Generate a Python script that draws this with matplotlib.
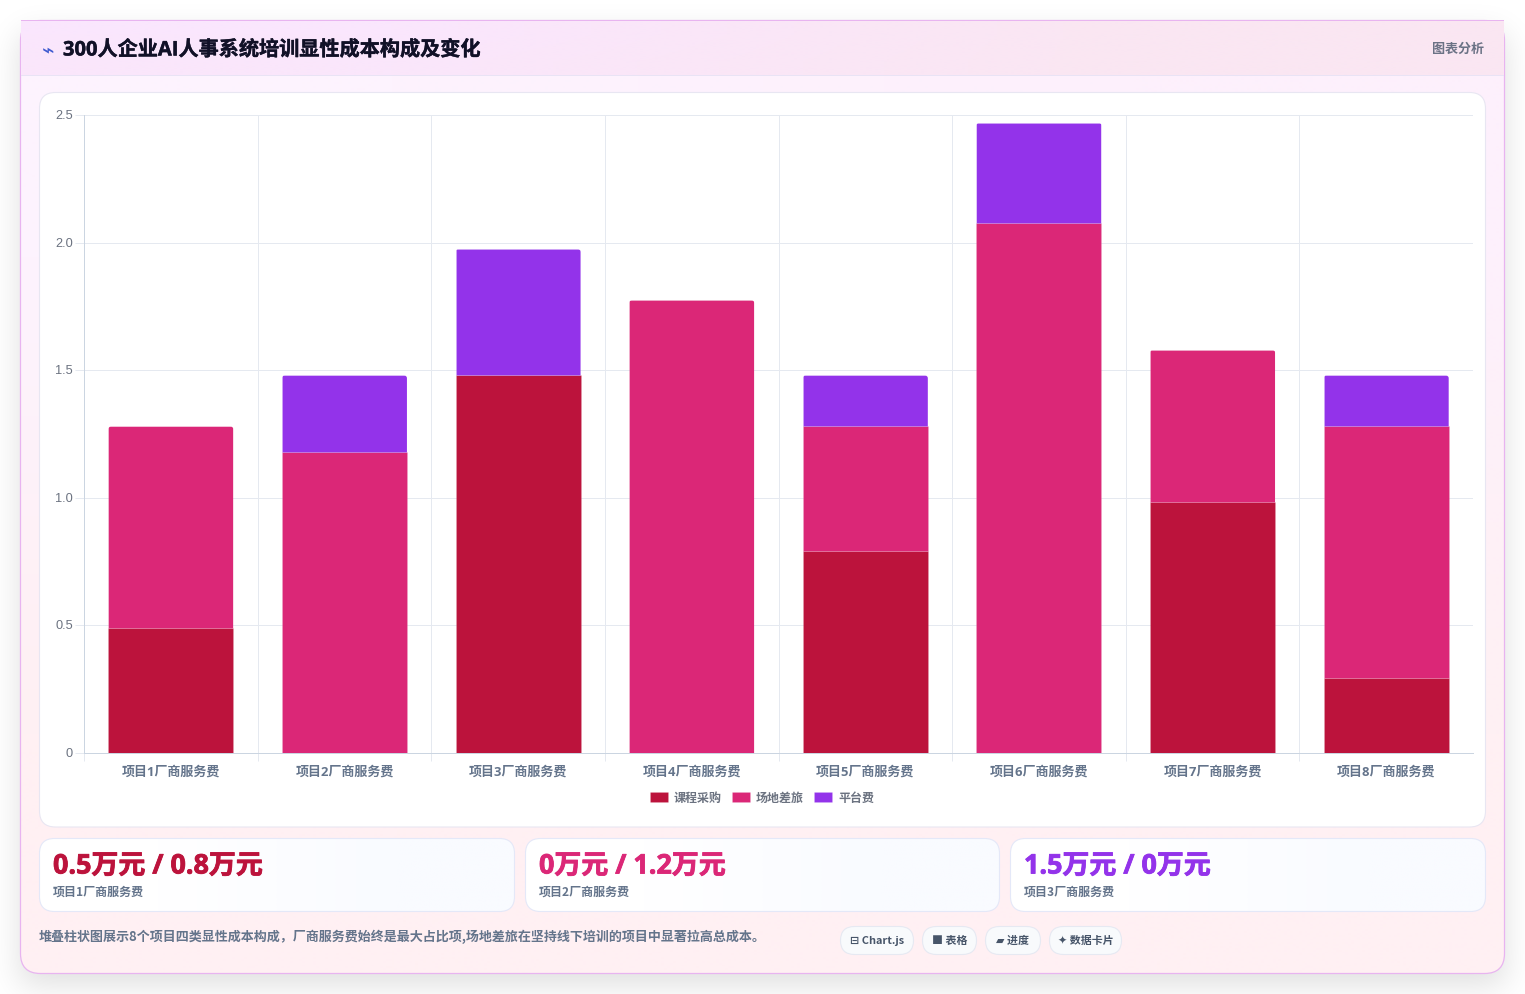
import numpy as np
import matplotlib
matplotlib.use("Agg")
import matplotlib.pyplot as plt
import matplotlib.patheffects as pe
from matplotlib.patches import FancyBboxPatch, Rectangle
from matplotlib.transforms import IdentityTransform, ScaledTranslation

CJK = ["Noto Sans CJK SC", "DejaVu Sans"]
LATIN_CJK = ["Open Sans", "Noto Sans CJK SC", "DejaVu Sans"]
plt.rcParams["font.family"] = CJK

W, H = 1525, 994
PX = 0.72  # points per pixel at 100 dpi

# chart data, in units of 10k yuan
projects = [f"项目{i}厂商服务费" for i in range(1, 9)]
course = [0.49, 0, 1.48, 0, 0.79, 0, 0.985, 0.295]
venue = [0.79, 1.18, 0, 1.775, 0.49, 2.075, 0.595, 0.985]
platform = [0, 0.30, 0.495, 0, 0.20, 0.395, 0, 0.20]
series_names = ["课程采购", "场地差旅", "平台费"]
series_colors = ["#bc133c", "#db2777", "#9333ea"]
y_ticks = [0, 0.5, 1.0, 1.5, 2.0, 2.5]
y_tick_labels = ["0", "0.5", "1.0", "1.5", "2.0", "2.5"]

title = "300人企业AI人事系统培训显性成本构成及变化"
badge = "图表分析"
stat_values = ["0.5万元 / 0.8万元", "0万元 / 1.2万元", "1.5万元 / 0万元"]
stat_labels = ["项目1厂商服务费", "项目2厂商服务费", "项目3厂商服务费"]
summary = "堆叠柱状图展示8个项目四类显性成本构成，厂商服务费始终是最大占比项,场地差旅在坚持线下培训的项目中显著拉高总成本。"
pills = ["⊟ Chart.js", "■ 表格", "▰ 进度", "✦ 数据卡片"]

fig = plt.figure(figsize=(W / 100, H / 100), dpi=100, facecolor="white")
page = fig.add_axes([0, 0, 1, 1])
page.set_xlim(0, W)
page.set_ylim(H, 0)
page.axis("off")


def rounded(x0, y0, x1, y1, r, **kw):
    patch = FancyBboxPatch((x0 + r, y0 + r), x1 - x0 - 2 * r, y1 - y0 - 2 * r,
                           boxstyle=f"round,pad={r},rounding_size={r}", **kw)
    page.add_patch(patch)
    return patch


def gradient(x0, y0, x1, y1, corners, clip=None, zorder=1):
    # bilinear blend between the four corner colours (tl, tr, bl, br)
    c = np.array([matplotlib.colors.to_rgb(k) for k in corners])
    img = np.array([[c[0], c[1]], [c[2], c[3]]])
    im = page.imshow(img, extent=(x0, x1, y1, y0), interpolation="bilinear",
                     aspect="auto", zorder=zorder)
    if clip is not None:
        im.set_clip_path(clip)
    return im


def soft_profile(n, a, b, sigma):
    box = np.zeros(n)
    box[max(a, 0):min(b, n)] = 1
    t = np.arange(-int(4 * sigma), int(4 * sigma) + 1)
    g = np.exp(-t ** 2 / (2 * sigma ** 2))
    return np.convolve(box, g / g.sum(), mode="same")


def heavy(width, color):
    return [pe.withStroke(linewidth=width, foreground=color)]


# soft drop shadow under the main card
alpha = 0.13 * np.outer(soft_profile(H, 34, 985, 16), soft_profile(W, 20, 1505, 16))
shadow = np.zeros((H, W, 4))
shadow[..., 3] = alpha
page.imshow(shadow, extent=(0, W, H, 0), aspect="auto", zorder=0, interpolation="nearest")
page.set_xlim(0, W)
page.set_ylim(H, 0)

# main card
card_edge = "#e8b4f0"
card_clip = rounded(20.5, 20.5, 1504.5, 973.5, 20, facecolor="none", edgecolor="none", zorder=1)
gradient(20.5, 20.5, 1504.5, 973.5, ["#fdf3fe", "#fdf0fc", "#fff0f3", "#fff0f3"], clip=card_clip, zorder=1)
rounded(20.5, 20.5, 1504.5, 973.5, 20, facecolor="none", edgecolor=card_edge, linewidth=0.9, zorder=2)

# header band
gradient(21, 21, 1504, 75, ["#fae6fd", "#fae6f2", "#fae6fb", "#fae6f2"], zorder=3)
page.add_patch(Rectangle((21, 20.2), 1483, 1.0, facecolor=card_edge, edgecolor="none", zorder=4))
page.add_patch(Rectangle((21, 75), 1483, 1.0, facecolor="#e9e3f5", edgecolor="none", zorder=4))
page.text(48, 50.5, "⌁", fontsize=15, color="#3f5bd0", ha="center", va="center", zorder=5)
page.text(63, 50.5, title, fontsize=14.5, fontweight="bold", color="#111127", ha="left", va="center", zorder=5,
          family=LATIN_CJK, path_effects=heavy(0.3, "#111127"))
page.text(1484, 49, badge, fontsize=9.4, fontweight="bold", color="#6b7285", ha="right", va="center", zorder=5)

# chart panel
rounded(39.5, 92.5, 1485.5, 827, 16, facecolor="white", edgecolor="#e8e6f2", linewidth=0.8, zorder=3)

# stat cards
for i, (x0, x1, value, label, color) in enumerate(zip((39.5, 525.5, 1010.5), (514.5, 999.5, 1485.5),
                                                      stat_values, stat_labels, series_colors)):
    clip = rounded(x0, 838.5, x1, 911.5, 15, facecolor="none", edgecolor="none", zorder=3)
    gradient(x0, 838.5, x1, 911.5, ["#ffffff", "#f9fbff", "#ffffff", "#f9fbff"], clip=clip, zorder=3)
    rounded(x0, 838.5, x1, 911.5, 15, facecolor="none", edgecolor="#e4e8f8", linewidth=0.8, zorder=4)
    page.text(x0 + 13.5, 866.5, value, fontsize=19.4, fontweight="bold", color=color, ha="left", va="center", zorder=5,
              family=LATIN_CJK, path_effects=heavy(0.6, color))
    page.text(x0 + 13.5, 892, label, fontsize=8.64, fontweight="bold", color="#64748b", ha="left", va="center", zorder=5)

# summary line and technology pills
page.text(39, 936.5, summary, fontsize=9.36, fontweight="bold", color="#64748b", ha="left", va="center", zorder=5)
for (x0, x1), text in zip(((840.5, 913.5), (922.5, 976.5), (985.5, 1040.5), (1049.5, 1121.5)), pills):
    rounded(x0, 926.5, x1, 954.5, 14, facecolor="#f8fafc", edgecolor="#e6e9f2", linewidth=0.8, zorder=3)
    page.text((x0 + x1) / 2, 941, text, fontsize=7.9, fontweight="bold", color="#475569",
              ha="center", va="center", zorder=5)

# stacked bar chart
ax = fig.add_axes([84 / W, (H - 753) / H, 1389 / W, (753 - 115) / H], facecolor="none", zorder=5)
x = np.arange(len(projects))
stacks = [np.array(course), np.array(venue), np.array(platform)]
base = np.zeros(len(projects))
containers = []
for values, name, color in zip(stacks, series_names, series_colors):
    containers.append(ax.bar(x, values, width=0.72, bottom=base, color=color, label=name, zorder=3,
                             edgecolor=(1, 1, 1, 0.1), linewidth=PX))
    base = base + values

ax.set_xlim(-0.5, 7.5)
ax.set_ylim(0, 2.5)
ax.set_yticks(y_ticks, y_tick_labels)
ax.set_xticks(x, projects)
ax.set_xticks(np.arange(-0.5, 7.0, 1.0), minor=True)
ax.grid(True, axis="y", which="major", color="#e5e9f0", linewidth=PX, zorder=0)
ax.grid(True, axis="x", which="minor", color="#e5e9f0", linewidth=PX, zorder=0)
ax.tick_params(axis="x", which="major", length=0, pad=13 * PX, labelsize=9.36, labelcolor="#64748b")
ax.tick_params(axis="x", which="minor", length=8 * PX, width=PX, color="#e5e9f0")
ax.tick_params(axis="y", length=9 * PX, width=PX, color="#e5e9f0", pad=2 * PX, labelsize=9.2, labelcolor="#6b7280")
for label in ax.get_xticklabels():
    label.set_fontweight("bold")
    label.set_family(LATIN_CJK)
nudge = ScaledTranslation(0, 0.5 / 100, fig.dpi_scale_trans)
for label in ax.get_yticklabels():
    label.set_family("Liberation Sans")
    label.set_transform(label.get_transform() + nudge)
for side in ("top", "right"):
    ax.spines[side].set_visible(False)
for side in ("left", "bottom"):
    ax.spines[side].set_color("#cbd5e1")
    ax.spines[side].set_linewidth(PX)

legend = ax.legend(loc="center", bbox_to_anchor=(762 / W, (H - 798) / H), bbox_transform=fig.transFigure,
                   ncol=3, frameon=False, handlelength=1.5, handleheight=0.92, handletextpad=0.5,
                   columnspacing=0.85, borderpad=0, prop={"size": 8.64, "weight": "bold"})
for text in legend.get_texts():
    text.set_color("#6b7280")

# round the top corners of each stack's uppermost segment
fig.canvas.draw()
for i in range(len(projects)):
    top = [c[i] for c in containers if c[i].get_height() > 0][-1]
    box = top.get_window_extent()
    clip = FancyBboxPatch((box.x0 + 3, box.y0 - 10), box.width - 6, box.height + 7,
                          boxstyle="round,pad=3,rounding_size=3", transform=IdentityTransform())
    top.set_clip_path(clip)

fig.savefig("out.png", dpi=100)
